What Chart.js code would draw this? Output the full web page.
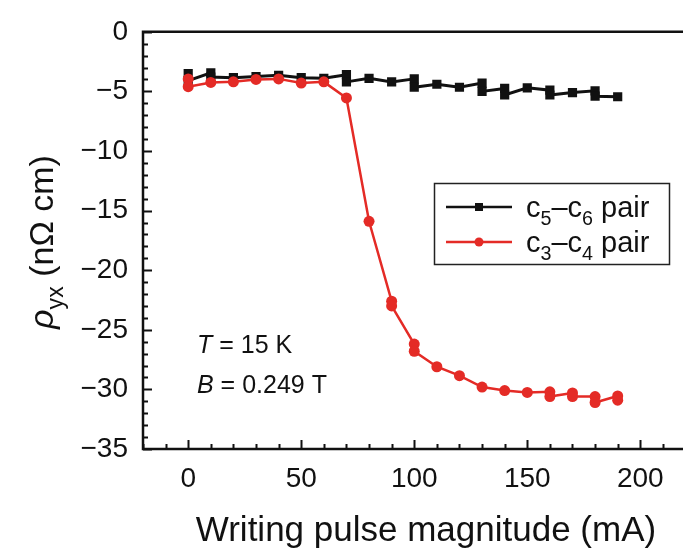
<!DOCTYPE html>
<html>
<head>
<meta charset="utf-8">
<script src="https://cdn.jsdelivr.net/npm/chart.js@4"></script>
<style>
	html, body { margin: 0; padding: 0; background: #fff; overflow: hidden; }
	#wrap { width: 692px; height: 556px; }
</style>
</head>
<body>
<div id="wrap"><canvas id="chart" width="692" height="556"></canvas></div>
<script>
// c5-c6 pair (black squares); repeated x = two readings at the same pulse
const pairC5C6X = [0, 0, 10, 10, 20, 30, 40, 50, 60, 70, 70, 80, 90, 100, 100, 110, 120, 130, 130, 140, 140, 150, 160, 160, 170, 180, 180, 190];
const pairC5C6Y = [-3.5, -4.1, -3.45, -3.8, -3.85, -3.75, -3.65, -3.85, -3.9, -3.6, -4.2, -3.9, -4.2, -3.95, -4.65, -4.4, -4.65, -4.3, -5.0, -4.75, -5.3, -4.7, -4.9, -5.3, -5.1, -4.95, -5.4, -5.45];

// c3-c4 pair (red circles)
const pairC3C4X = [0, 0, 10, 20, 30, 40, 50, 60, 70, 80, 90, 90, 100, 100, 110, 120, 130, 140, 150, 160, 160, 170, 170, 180, 180, 190, 190];
const pairC3C4Y = [-3.95, -4.6, -4.25, -4.2, -4.0, -3.95, -4.3, -4.2, -5.55, -15.9, -22.6, -23.0, -26.2, -26.8, -28.1, -28.85, -29.8, -30.1, -30.25, -30.2, -30.6, -30.3, -30.6, -30.6, -31.1, -30.55, -30.9];

const xTicks = [0, 50, 100, 150, 200];
const yTicks = [0, -5, -10, -15, -20, -25, -30, -35];

const FONT = '"Liberation Sans", Arial, sans-serif';
const RED = '#e42b26';
const BLACK = '#111';

const toPoints = (xs, ys) => xs.map((x, i) => ({x: x, y: ys[i]}));
const minus = v => String(v).replace('-', '\u2212');

// draws text made of parts, some of them subscript or italic
function richText(ctx, parts, x, y, size) {
	let cx = x;
	for (const p of parts) {
		const s = p.sub ? size * 0.68 : size;
		ctx.font = (p.italic ? 'italic ' : '') + s + 'px ' + FONT;
		ctx.fillText(p.t, cx, p.sub ? y + size * 0.28 : y);
		cx += ctx.measureText(p.t).width;
	}
	return cx - x;
}

function richWidth(ctx, parts, size) {
	let w = 0;
	for (const p of parts) {
		const s = p.sub ? size * 0.68 : size;
		ctx.font = (p.italic ? 'italic ' : '') + s + 'px ' + FONT;
		w += ctx.measureText(p.t).width;
	}
	return w;
}

const frame = {
	id: 'frame',
	afterDatasetsDraw(chart) {
		const {ctx, chartArea: a, scales: {x, y}} = chart;
		ctx.save();
		ctx.strokeStyle = '#111';
		ctx.lineWidth = 2.5;
		ctx.beginPath();
		ctx.moveTo(a.right + 5, a.top);
		ctx.lineTo(a.left, a.top);
		ctx.lineTo(a.left, a.bottom);
		ctx.lineTo(a.right + 5, a.bottom);
		ctx.stroke();

		ctx.lineWidth = 2;
		ctx.beginPath();
		for (let v = -20; v <= 220; v += 10) {
			const px = Math.round(x.getPixelForValue(v)) + 0.5;
			const len = v % 50 === 0 ? 9 : 5;
			ctx.moveTo(px, a.bottom);
			ctx.lineTo(px, a.bottom - len);
		}
		for (let v = 0; v >= -35; v -= 1) {
			const py = Math.round(y.getPixelForValue(v)) + 0.5;
			const len = v % 5 === 0 ? 9 : 5;
			ctx.moveTo(a.left, py);
			ctx.lineTo(a.left + len, py);
		}
		ctx.stroke();

		// axis titles
		ctx.fillStyle = '#111';
		ctx.textBaseline = 'alphabetic';
		ctx.textAlign = 'left';
		ctx.font = '35px ' + FONT;
		const xt = 'Writing pulse magnitude (mA)';
		const xw = ctx.measureText(xt).width;
		ctx.fillText(xt, 426 - xw / 2, 541);

		const yParts = [{t: '\u03c1', italic: true}, {t: 'yx', sub: true}, {t: ' (n\u03a9 cm)'}];
		const yw = richWidth(ctx, yParts, 34);
		ctx.save();
		ctx.translate(53, 242);
		ctx.rotate(-Math.PI / 2);
		richText(ctx, yParts, -yw / 2, 0, 34);
		ctx.restore();

		// conditions
		richText(ctx, [{t: 'T', italic: true}, {t: ' = 15 K'}], 197, 353, 25);
		richText(ctx, [{t: 'B', italic: true}, {t: ' = 0.249 T'}], 197, 393, 25);

		// legend
		ctx.lineWidth = 1.5;
		ctx.strokeStyle = '#222';
		ctx.strokeRect(434.5, 183.5, 235, 81);
		const rows = [
			{color: BLACK, square: true, y: 207, parts: [{t: 'c'}, {t: '5', sub: true}, {t: '\u2013c'}, {t: '6', sub: true}, {t: ' pair'}]},
			{color: RED, square: false, y: 242, parts: [{t: 'c'}, {t: '3', sub: true}, {t: '\u2013c'}, {t: '4', sub: true}, {t: ' pair'}]}
		];
		for (const r of rows) {
			ctx.strokeStyle = r.color;
			ctx.fillStyle = r.color;
			ctx.lineWidth = 2.5;
			ctx.beginPath();
			ctx.moveTo(446, r.y);
			ctx.lineTo(512, r.y);
			ctx.stroke();
			if (r.square) {
				ctx.fillRect(475, r.y - 4, 8, 8);
			} else {
				ctx.beginPath();
				ctx.arc(479, r.y, 4.5, 0, Math.PI * 2);
				ctx.fill();
			}
			ctx.fillStyle = '#111';
			richText(ctx, r.parts, 526, r.y + 10, 29);
		}
		ctx.restore();
	}
};

new Chart(document.getElementById('chart'), {
	type: 'scatter',
	data: {
		datasets: [{
			label: 'c3-c4 pair',
			data: toPoints(pairC3C4X, pairC3C4Y),
			showLine: true,
			borderColor: RED,
			backgroundColor: RED,
			borderWidth: 2.5,
			pointStyle: 'circle',
			pointRadius: 5.5,
			pointBorderWidth: 0
		},{
			label: 'c5-c6 pair',
			data: toPoints(pairC5C6X, pairC5C6Y),
			showLine: true,
			borderColor: BLACK,
			backgroundColor: BLACK,
			borderWidth: 3,
			pointStyle: 'rect',
			pointRadius: 6.5,
			pointBorderWidth: 0
		}]
	},
	options: {
		responsive: false,
		animation: false,
		layout: {padding: {top: 14, right: 4, left: 0, bottom: 0}},
		plugins: {legend: {display: false}, tooltip: {enabled: false}},
		scales: {
			x: {
				type: 'linear',
				min: -20,
				max: 220,
				grid: {display: false, drawTicks: false},
				border: {display: false},
				afterBuildTicks: s => { s.ticks = xTicks.map(v => ({value: v})); },
				afterFit: s => { s.height = 107; },
				ticks: {
					padding: 13,
					color: '#111',
					font: {family: FONT, size: 28},
					maxRotation: 0,
					callback: v => minus(v)
				}
			},
			y: {
				type: 'linear',
				min: -35,
				max: 0,
				grid: {display: false, drawTicks: false},
				border: {display: false},
				afterBuildTicks: s => { s.ticks = yTicks.map(v => ({value: v})); },
				afterFit: s => { s.width = 143; },
				ticks: {
					padding: 15,
					color: '#111',
					font: {family: FONT, size: 28},
					callback: v => minus(v)
				}
			}
		}
	},
	plugins: [frame]
});
</script>
</body>
</html>
